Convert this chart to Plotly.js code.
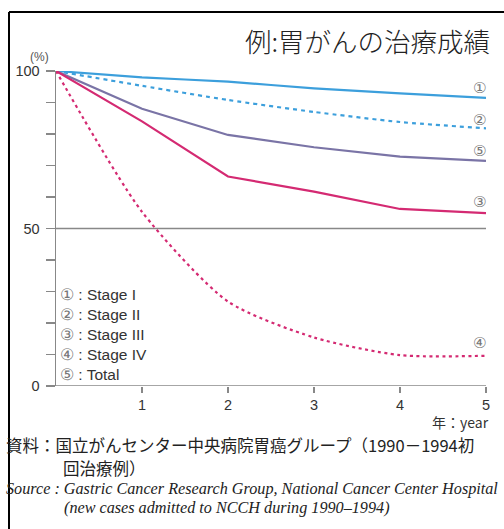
<!DOCTYPE html>
<html><head><meta charset="utf-8">
<script src="https://cdn.plot.ly/plotly-3.0.1.min.js"></script>
<style>html,body{margin:0;padding:0;background:#fff}#c{width:504px;height:529px}</style>
</head><body><div id="c"></div>
<script>
const years = [0, 1, 2, 3, 4, 5];
const stage1 = [100, 98.0, 96.6, 94.5, 92.9, 91.5];
const stage2 = [100, 95.3, 90.8, 87.0, 83.8, 81.8];
const stage3 = [100, 84.0, 66.5, 61.7, 56.2, 54.9];
const stage4 = [100, 55.3, 26.8, 15.4, 9.8, 9.6];
const total  = [100, 88.0, 79.7, 75.8, 72.8, 71.5];
const yTicks = [0,10,20,30,40,50,60,70,80,90,100];
const yTickText = ['0','','','','','50','','','','','100'];
const xTicks = [1,2,3,4,5];
const legendNums = ['\u2460','\u2461','\u2462','\u2463','\u2464'];
const legendNames = ['Stage I','Stage II','Stage III','Stage IV','Total'];
const endLabels = ['\u2460','\u2461','\u2464','\u2462','\u2463'];

const L=56, R=486, T=71, B=386;
const px = x => (x - L) / (R - L);
const py = y => (B - y) / (B - T);

const blue = '#3c9fdc', mag = '#d42a72', purp = '#7a74a6';
const traces = [
  {x: years, y: stage1, mode:'lines', line:{color:blue, width:2.2, shape:'spline', smoothing:0.6}},
  {x: years, y: stage2, mode:'lines', line:{color:blue, width:2.2, dash:'4px,4px', shape:'spline', smoothing:0.6}},
  {x: years, y: total, mode:'lines', line:{color:purp, width:2.2}},
  {x: years, y: stage3, mode:'lines', line:{color:mag, width:2.2}},
  {x: years, y: stage4, mode:'lines', line:{color:mag, width:2.2, dash:'3px,3.5px', shape:'spline', smoothing:0.7}}
];
traces.forEach(t => { t.showlegend = false; t.hoverinfo = 'skip'; t.cliponaxis = false; });

const ann = [];
ann.push({text:'例:胃がんの治療成績', xref:'paper', yref:'paper', x:px(367), y:py(41), xanchor:'center', yanchor:'middle', showarrow:false, font:{family:'Noto Sans CJK JP', size:26.5, color:'#222', weight:300}});
ann.push({text:'(%)', xref:'paper', yref:'paper', x:px(39), y:py(57), xanchor:'center', yanchor:'middle', showarrow:false, font:{family:'Liberation Sans', size:12, color:'#555'}});
const endY = [88, 120, 151, 202, 343];
endLabels.forEach((t,i) => ann.push({text:t, xref:'paper', yref:'paper', x:px(479), y:py(endY[i]), xanchor:'center', yanchor:'middle', showarrow:false, font:{family:'DejaVu Sans', size:15, color:'#777'}}));
legendNames.forEach((t,i) => ann.push({
  text:'<span style="color:#777">' + legendNums[i] + '</span> : ' + t,
  xref:'paper', yref:'paper', x:px(58), y:py(294 + 20*i), xanchor:'left', yanchor:'middle', showarrow:false,
  font:{family:'Liberation Sans', size:15.5, color:'#333'}}));
ann.push({text:'年：year', xref:'paper', yref:'paper', x:px(491), y:py(421.5), xanchor:'right', yanchor:'middle', showarrow:false, font:{family:'Noto Sans CJK JP', size:14, color:'#333'}});

const srcLines = [
  {t:'資料：国立がんセンター中央病院胃癌グループ（1990－1994初', x:4, y:444.5, f:'Noto Sans CJK JP', s:16.5, i:false},
  {t:'回治療例）', x:61, y:467.5, f:'Noto Sans CJK JP', s:16.5, i:false},
  {t:'Source : Gastric Cancer Research Group, National Cancer Center Hospital', x:4, y:488.5, f:'Liberation Serif', s:16.2, i:true},
  {t:'(new cases admitted to NCCH during 1990–1994)', x:62, y:507.5, f:'Liberation Serif', s:16.2, i:true}
];
srcLines.forEach(l => ann.push({text: l.i ? '<i>' + l.t + '</i>' : l.t, xref:'paper', yref:'paper', x:px(l.x), y:py(l.y), xanchor:'left', yanchor:'middle', showarrow:false, font:{family:l.f, size:l.s, color:'#222'}}));

const shapes = [
  {type:'line', xref:'x', yref:'y', x0:0, x1:5, y0:50, y1:50, line:{color:'#888', width:1.5}, layer:'below'},
  {type:'line', xref:'paper', yref:'y', x0:px(47), x1:1, y0:0, y1:0, line:{color:'#888', width:1.5}, layer:'below'},
  {type:'line', xref:'paper', yref:'paper', x0:px(9), x1:px(9), y0:py(12), y1:py(540), line:{color:'#000', width:2}},
  {type:'line', xref:'paper', yref:'paper', x0:px(9), x1:px(520), y0:py(12), y1:py(12), line:{color:'#000', width:2}}
];

const layout = {
  width:504, height:529,
  margin:{l:L, r:504-R, t:T, b:529-B, pad:0},
  paper_bgcolor:'#fff', plot_bgcolor:'#fff',
  showlegend:false,
  xaxis:{range:[0,5], tickvals:xTicks, ticks:'outside', ticklen:6, tickcolor:'#888', tickwidth:1.2,
         showgrid:false, zeroline:false, showline:false, tickfont:{family:'Liberation Sans', size:14.5, color:'#333'}, fixedrange:true},
  yaxis:{range:[0,100], tickvals:yTicks, ticktext:yTickText, ticks:'outside', ticklen:9, tickcolor:'#888', tickwidth:1.2,
         ticklabelstandoff:3,
         showgrid:false, zeroline:false, showline:true, linecolor:'#888', linewidth:1.5,
         tickfont:{family:'Liberation Sans', size:14.5, color:'#333'}, fixedrange:true},
  annotations:ann, shapes:shapes
};
Plotly.newPlot('c', traces, layout, {staticPlot:true});
</script></body></html>
